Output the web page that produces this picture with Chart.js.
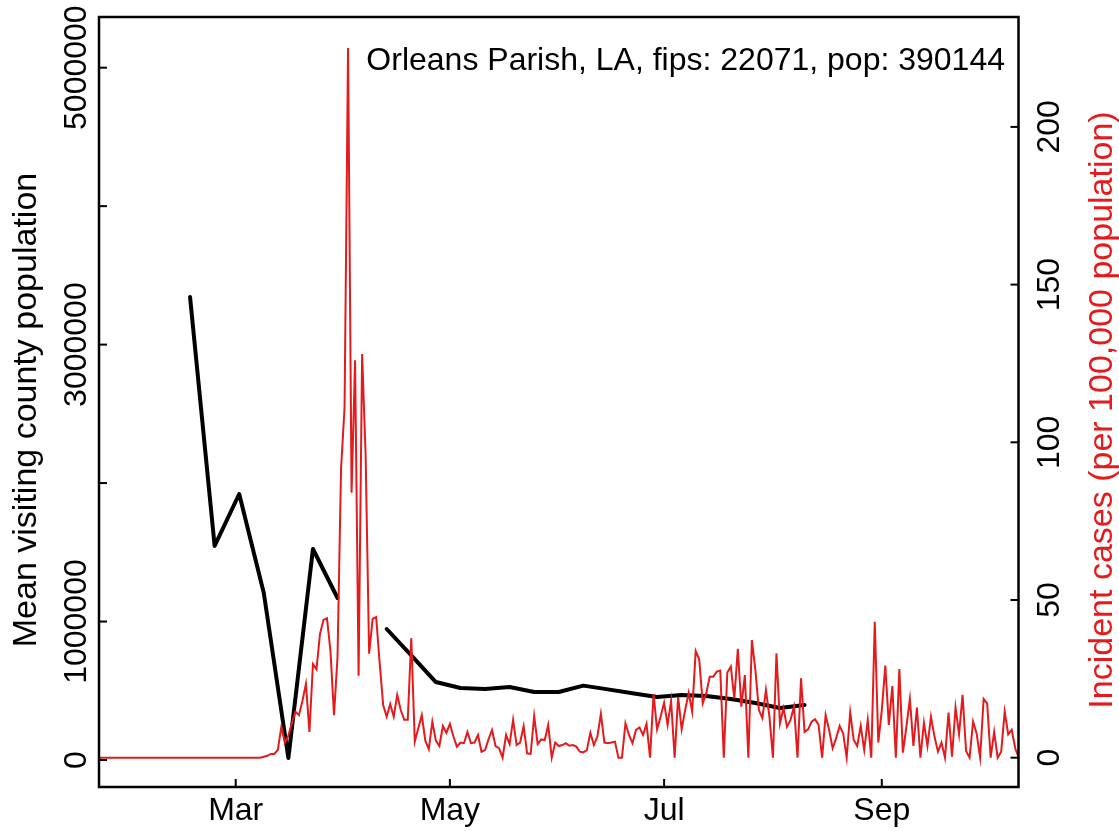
<!DOCTYPE html>
<html>
<head>
<meta charset="utf-8">
<script src="https://cdn.jsdelivr.net/npm/chart.js@4.4.1/dist/chart.umd.min.js"></script>
<style>
  html, body { margin: 0; padding: 0; background: #fff; }
  canvas { display: block; }
</style>
</head>
<body>
<canvas id="chart" width="1119" height="831"></canvas>
<script>
// day numbers are days since 2020-01-01 (Jan 1 = 0)
const caseStartDay = 21;   // first daily case value
const visitStartDay = 47;  // first weekly visiting value

// daily incident cases per 100,000 (red, right axis)
const incidentCases = [
  0, 0, 0, 0, 0, 0, 0, 0, 0, 0, 0, 0, 0, 0, 0, 0, 0, 0, 0, 0,
  0, 0, 0, 0, 0, 0, 0, 0, 0, 0, 0, 0, 0, 0, 0, 0, 0, 0, 0, 0,
  0, 0, 0, 0, 0, 0, 0, 0.3, 0.6, 1.2, 1.2, 2.5, 9.8, 4.8, 7, 11,
  14.6, 13.5, 18, 23.4, 8.2, 29.7, 28, 39.2, 43.7, 44.2, 33.6, 13.5, 32, 91.5,
  111, 225, 84, 126, 26, 128, 96, 33, 44, 44.6, 30, 16.7, 13, 17,
  13, 19.9, 15.1, 12, 12, 37.9, 5.1, 9.3, 13.5, 5.4, 2.7, 11.4, 5.4, 3.7,
  10, 7.9, 10.7, 6.7, 3.5, 4.8, 4.6, 8.2, 4.6, 4.8, 7.2, 1.9, 2.4, 5.8,
  8.8, 3.7, 3, 0, 7.2, 4.3, 12, 4, 4.8, 10, 1.4, 1.2, 13.2, 4.3,
  5.8, 5.6, 10.4, 0, 4.8, 3.7, 4, 4.6, 3.8, 4, 3.5, 1.9, 1.7, 2.4,
  7.9, 4, 6.7, 13.9, 4.8, 4.6, 4.8, 5.1, 0, 0, 10.9, 7.2, 4.6, 8.8,
  9.6, 7.2, 10.7, 0, 20.2, 9, 13, 17.4, 10.4, 18, 0, 19.3, 9, 15.1,
  20.6, 14.6, 33.8, 31.2, 17.2, 20.4, 25.7, 25.7, 27.3, 27.6, 0, 27, 28.9, 18.8,
  34.5, 16.2, 26.2, 0, 37.3, 27.8, 15.1, 12.5, 21.5, 13, 0, 33.1, 10.9, 15.7,
  9.8, 12, 16.2, 0, 25.2, 8.2, 9, 11.4, 12.2, 10.4, 0, 13.5, 8.8, 3,
  6.2, 10.1, 7.7, 0, 14.4, 5.6, 3.7, 10.1, 2.4, 12, 0, 43.1, 4.8, 15.1,
  29.2, 10.4, 22.7, 0, 28.1, 1.6, 9.8, 18.6, 3.7, 15.9, 0, 11.1, 3.7, 13,
  6.7, 1.9, 4.8, 0, 14.3, 0.3, 15.9, 7.4, 19.9, 2.1, 0, 11.4, 7.7, 0,
  18.6, 17.2, 0, 8.2, 0, 1.9, 14.6, 7.4, 8.8, 3, 0
];

// weekly mean visiting county population (black, left axis)
const visitingPop = [
  3344000, 1546000, 1921000, 1206000, 14000, 1524000, 1170000, null,
  946000, 755000, 563000, 520000, 513000, 527000, 491000, 491000,
  537000, 510000, 482000, 455000, 469000, 462000, 440000, 412000,
  376000, 397000
];

const monthTicks = [60, 121, 182, 244];
const monthLabels = ['Mar', 'May', 'Jul', 'Sep'];
const leftTicks = [0, 1000000, 2000000, 3000000, 4000000, 5000000];
const leftLabels = ['0', '1000000', '', '3000000', '', '5000000'];
const rightTicks = [0, 50, 100, 150, 200];
const rightLabels = ['0', '50', '100', '150', '200'];

const titleText = 'Orleans Parish, LA, fips: 22071, pop: 390144';
const leftTitle = 'Mean visiting county population';
const rightTitle = 'Incident cases (per 100,000 population)';

const RED = '#e41a1c';
const FONT = '32px "Liberation Sans", Arial, sans-serif';
const LAB_FONT = '34px "Liberation Sans", Arial, sans-serif';

const casePoints = incidentCases.map((v, i) => ({ x: caseStartDay + i, y: v }));
const visitPoints = visitingPop.map((v, i) => ({ x: visitStartDay + 7 * i, y: v }));

// draw text turned to read bottom-to-top, baseline at x
function vText(ctx, text, x, y) {
  ctx.save();
  ctx.translate(x, y);
  ctx.rotate(-Math.PI / 2);
  ctx.textAlign = 'center';
  ctx.textBaseline = 'alphabetic';
  ctx.fillText(text, 0, 0);
  ctx.restore();
}

// R-style box, inward ticks, rotated labels
const rAxes = {
  id: 'rAxes',
  afterDraw(chart) {
    const { ctx, chartArea: a, scales } = chart;
    ctx.save();
    ctx.strokeStyle = '#000';
    ctx.fillStyle = '#000';
    ctx.lineWidth = 2.5;
    ctx.strokeRect(a.left, a.top, a.right - a.left, a.bottom - a.top);

    ctx.lineWidth = 2;
    ctx.font = FONT;
    const tl = 8;

    // bottom axis
    monthTicks.forEach((d, i) => {
      const x = scales.x.getPixelForValue(d);
      ctx.beginPath();
      ctx.moveTo(x, a.bottom);
      ctx.lineTo(x, a.bottom - tl);
      ctx.stroke();
      ctx.textAlign = 'center';
      ctx.textBaseline = 'alphabetic';
      ctx.fillText(monthLabels[i], x, 820);
    });

    // left axis
    leftTicks.forEach((v, i) => {
      const y = scales.y.getPixelForValue(v);
      ctx.beginPath();
      ctx.moveTo(a.left, y);
      ctx.lineTo(a.left + tl, y);
      ctx.stroke();
      if (leftLabels[i]) vText(ctx, leftLabels[i], 86, y);
    });

    // right axis
    rightTicks.forEach((v, i) => {
      const y = scales.y1.getPixelForValue(v);
      ctx.beginPath();
      ctx.moveTo(a.right, y);
      ctx.lineTo(a.right - tl, y);
      ctx.stroke();
      vText(ctx, rightLabels[i], 1059, y);
    });

    // axis titles
    ctx.font = LAB_FONT;
    const midY = (a.top + a.bottom) / 2 + 8;
    vText(ctx, leftTitle, 36, midY);
    ctx.fillStyle = RED;
    vText(ctx, rightTitle, 1112, midY);

    ctx.font = FONT;
    ctx.fillStyle = '#000';
    ctx.textAlign = 'right';
    ctx.textBaseline = 'alphabetic';
    ctx.fillText(titleText, 1005, 70);
    ctx.restore();
  }
};

new Chart(document.getElementById('chart').getContext('2d'), {
  type: 'line',
  data: {
    datasets: [
      {
        label: 'Incident cases',
        data: casePoints,
        yAxisID: 'y1',
        borderColor: RED,
        borderWidth: 2,
        pointRadius: 0,
        tension: 0,
        fill: false
      },
      {
        label: 'Mean visiting county population',
        data: visitPoints,
        yAxisID: 'y',
        borderColor: '#000',
        borderWidth: 4,
        borderJoinStyle: 'round',
        borderCapStyle: 'round',
        pointRadius: 0,
        tension: 0,
        spanGaps: false,
        fill: false
      }
    ]
  },
  options: {
    responsive: false,
    animation: false,
    devicePixelRatio: 1,
    layout: { padding: { top: 17, left: 0, right: 0, bottom: 0 } },
    plugins: {
      legend: { display: false },
      tooltip: { enabled: false }
    },
    scales: {
      x: {
        type: 'linear',
        min: 21.07,
        max: 282.93,
        ticks: { display: false },
        grid: { display: false },
        border: { display: false },
        afterFit: (s) => { s.height = 44; }
      },
      y: {
        position: 'left',
        min: -195000,
        max: 5366000,
        ticks: { display: false },
        grid: { display: false },
        border: { display: false },
        afterFit: (s) => { s.width = 99; }
      },
      y1: {
        position: 'right',
        min: -9.29,
        max: 234.85,
        ticks: { display: false },
        grid: { display: false },
        border: { display: false },
        afterFit: (s) => { s.width = 100.5; }
      }
    }
  },
  plugins: [rAxes]
});
</script>
</body>
</html>
